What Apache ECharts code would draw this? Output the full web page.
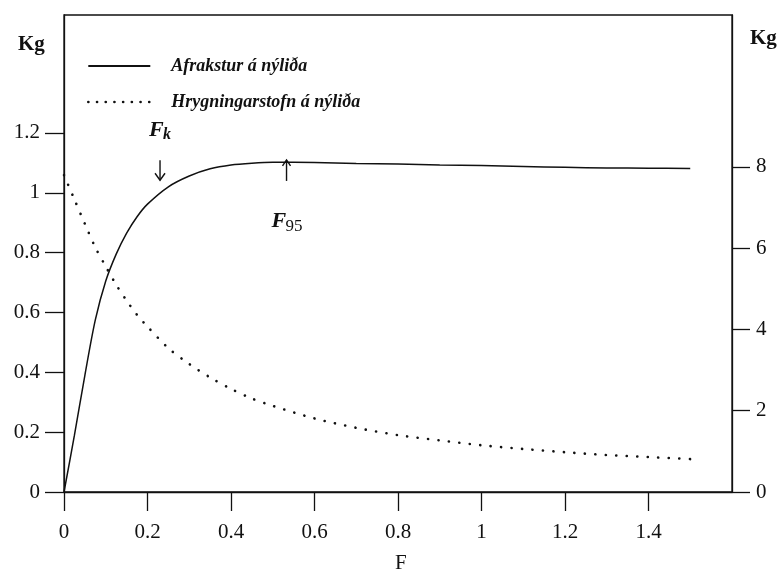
<!DOCTYPE html>
<html>
<head>
<meta charset="utf-8">
<script src="https://cdn.jsdelivr.net/npm/echarts@6/dist/echarts.min.js"></script>
<style>html,body{margin:0;padding:0;background:#fff}#c{width:780px;height:574px}</style>
</head>
<body>
<div id="c"></div>
<script>
// F values (fishing mortality)
const fValues = [0, 0.025, 0.05, 0.075, 0.1, 0.125, 0.15, 0.175, 0.2, 0.25, 0.3, 0.35, 0.4, 0.45, 0.5, 0.6, 0.7, 0.8, 0.9, 1.0, 1.1, 1.2, 1.3, 1.4, 1.5];
// Afrakstur á nýliða (left axis, Kg)
const yieldPerRecruit = [0, 0.19, 0.39, 0.575, 0.705, 0.795, 0.865, 0.92, 0.962, 1.02, 1.056, 1.08, 1.093, 1.099, 1.102, 1.101, 1.098, 1.096, 1.093, 1.091, 1.088, 1.085, 1.083, 1.082, 1.081];
// Hrygningarstofn á nýliða (right axis, Kg)
const ssbPerRecruit = [7.8, 7.2, 6.6, 6.02, 5.55, 5.1, 4.71, 4.36, 4.07, 3.54, 3.15, 2.82, 2.54, 2.30, 2.12, 1.81, 1.58, 1.40, 1.27, 1.15, 1.06, 0.98, 0.91, 0.86, 0.81];
// tick labels
const xTicks = [0, 0.2, 0.4, 0.6, 0.8, 1, 1.2, 1.4];
const leftTicks = [0, 0.2, 0.4, 0.6, 0.8, 1, 1.2];
const rightTicks = [0, 2, 4, 6, 8];
const seriesNames = ['Afrakstur á nýliða', 'Hrygningarstofn á nýliða'];
// reference points
const fk = 0.23, fkYield = 0.985;
const f95 = 0.533, f95Yield = 1.103;

const serif = 'Liberation Serif';
const black = '#111';
const chart = echarts.init(document.getElementById('c'), null, {renderer: 'canvas'});

function axisCommon(ticks, tickLen, margin) {
  return {
    axisLine: {show: true, onZero: false, lineStyle: {color: black, width: 1.3}},
    axisTick: {show: true, inside: false, length: tickLen, customValues: ticks, lineStyle: {color: black, width: 1.3}},
    axisLabel: {show: true, customValues: ticks, margin: margin, color: black, fontFamily: serif, fontSize: 21},
    splitLine: {show: false}
  };
}

const option = {
  backgroundColor: '#fff',
  animation: false,
  color: [black, black],
  grid: {left: 64, right: 48, top: 15, bottom: 82, show: true, borderColor: black, borderWidth: 1.3, backgroundColor: 'transparent'},
  legend: {
    orient: 'vertical', left: 87, top: 57, padding: 0, itemWidth: 62, itemHeight: 14, itemGap: 18,
    data: [
      {name: seriesNames[0]},
      {name: seriesNames[1], lineStyle: {type: [0.1, 8.6], width: 2.6, cap: 'round', color: black}}
    ],
    itemStyle: {opacity: 0},
    textStyle: {fontFamily: serif, fontStyle: 'italic', fontWeight: 'bold', fontSize: 18, color: black, padding: [0, 0, 0, 16]}
  },
  xAxis: Object.assign({type: 'value', min: 0, max: 1.6, interval: 0.2}, axisCommon(xTicks, 19, 30)),
  yAxis: [
    Object.assign({type: 'value', min: 0, max: 1.594, interval: 0.2, position: 'left'}, axisCommon(leftTicks, 19, 24)),
    Object.assign({type: 'value', min: 0, max: 11.74, interval: 2, position: 'right'}, axisCommon(rightTicks, 18, 24))
  ],
  series: [
    {
      name: seriesNames[0], type: 'line', yAxisIndex: 0, smooth: 0.3, showSymbol: false, symbol: 'none',
      data: fValues.map((f, i) => [f, yieldPerRecruit[i]]),
      itemStyle: {color: black},
      lineStyle: {color: black, width: 1.5}
    },
    {
      name: seriesNames[1], type: 'line', yAxisIndex: 1, smooth: 0.3, showSymbol: false, symbol: 'none',
      data: fValues.map((f, i) => [f, ssbPerRecruit[i]]),
      itemStyle: {color: black},
      lineStyle: {color: black, width: 2.6, type: [0.1, 10.4], cap: 'round'}
    }
  ]
};
chart.setOption(option);

const pk = chart.convertToPixel({xAxisIndex: 0, yAxisIndex: 0}, [fk, fkYield]);
const p95 = chart.convertToPixel({xAxisIndex: 0, yAxisIndex: 0}, [f95, f95Yield]);
const lineStyle = {stroke: black, lineWidth: 1.4, fill: null};
chart.setOption({
  graphic: [
    {type: 'text', left: 18, top: 34, style: {text: 'Kg', font: 'bold 21px "Liberation Serif"', fill: black}},
    {type: 'text', left: 750, top: 28, style: {text: 'Kg', font: 'bold 21px "Liberation Serif"', fill: black}},
    {type: 'text', left: 395, top: 553, style: {text: 'F', font: '21px "Liberation Serif"', fill: black}},
    // F_k label and arrow
    {type: 'text', x: pk[0] - 11, y: pk[1] - 78, style: {text: 'F', font: 'italic bold 22px "Liberation Serif"', fill: black}},
    {type: 'text', x: pk[0] + 3, y: pk[1] - 70, style: {text: 'k', font: 'italic bold 16px "Liberation Serif"', fill: black}},
    {type: 'line', shape: {x1: pk[0], y1: pk[1] - 37, x2: pk[0], y2: pk[1] - 17}, style: lineStyle},
    {type: 'polyline', shape: {points: [[pk[0] - 5, pk[1] - 24], [pk[0], pk[1] - 17], [pk[0] + 5, pk[1] - 24]]}, style: lineStyle},
    // F_95 label and arrow
    {type: 'line', shape: {x1: p95[0], y1: p95[1] + 19, x2: p95[0], y2: p95[1] - 2}, style: lineStyle},
    {type: 'polyline', shape: {points: [[p95[0] - 4, p95[1] + 4], [p95[0], p95[1] - 2], [p95[0] + 4, p95[1] + 4]]}, style: lineStyle},
    {type: 'text', x: p95[0] - 15, y: p95[1] + 48, style: {text: 'F', font: 'italic bold 22px "Liberation Serif"', fill: black}},
    {type: 'text', x: p95[0] - 1, y: p95[1] + 56, style: {text: '95', font: '17px "Liberation Serif"', fill: black}}
  ]
});
</script>
</body>
</html>
